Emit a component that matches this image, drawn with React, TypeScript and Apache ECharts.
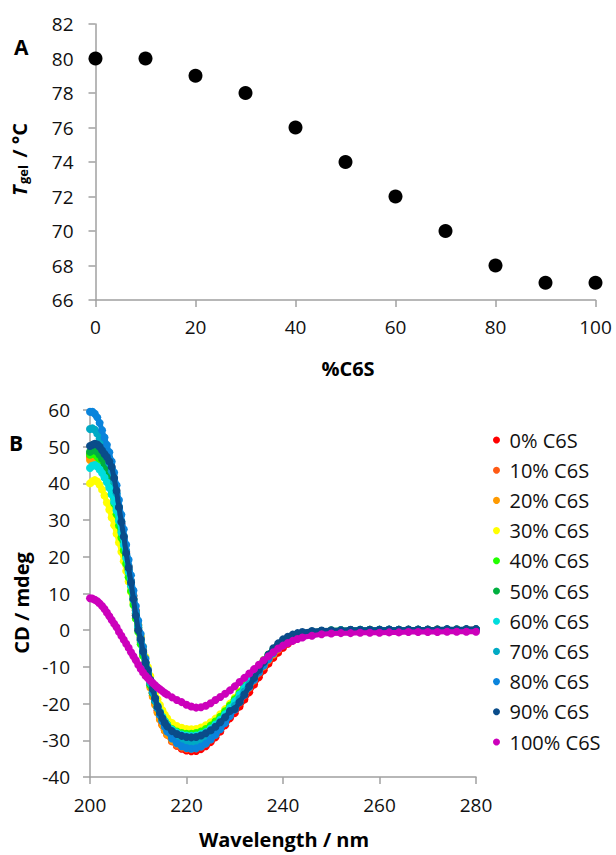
import React, { useEffect, useRef } from "react";
import * as echarts from "echarts";

// ---------- Panel A ----------
const pctC6S = [0, 10, 20, 30, 40, 50, 60, 70, 80, 90, 100];
const tGel = [80, 80, 79, 78, 76, 74, 72, 70, 68, 67, 67];

// ---------- Panel B ----------
const wavelength = [
  200, 200.5, 201, 201.5, 202, 202.5, 203, 203.5, 204, 204.5, 205, 205.5, 206, 206.5, 207, 207.5,
  208, 208.5, 209, 209.5, 210, 210.5, 211, 211.5, 212, 212.5, 213, 213.5, 214, 214.5, 215, 215.5, 216,
  217, 218, 219, 220, 221, 222, 223, 224, 225, 226, 227, 228, 229, 230, 231, 232, 233, 234, 235, 236,
  237, 238, 239, 240, 241, 242, 243, 244,
  246, 248, 250, 252, 254, 256, 258, 260, 262, 264, 266, 268, 270, 272, 274, 276, 278, 280,
];

const cd0 = [
  48, 48.3, 48.5, 48.2, 47.5, 46.5, 45.3, 44, 42.5, 40.5, 38.3, 35.5, 32.5, 29, 25.2, 21.3,
  17.4, 13.4, 9.4, 5.4, 1.5, -2, -5.5, -8.8, -11.8, -14.6, -17.2, -19.6, -21.8, -23.8, -25.5, -27, -28.3,
  -30.2, -31.5, -32.3, -32.8, -33, -32.9, -32.4, -31.6, -30.5, -29.2, -27.6, -25.9, -24, -22.6, -20.8, -18.9,
  -16.9, -14.8, -12.8, -10.9, -9.1, -7.5, -6.1, -4.8, -3.7, -2.8, -2.1, -1.5,
  -0.8, -0.4, -0.2, -0.1, -0.1, 0, 0, 0, 0.1, 0, 0.1, 0.1, 0.1, 0.1, 0.2, 0.2, 0.2, 0.3,
];
const cd10 = [
  47.2, 47.6, 47.7, 47.3, 46.6, 45.6, 44.4, 43, 41.4, 39.4, 37.1, 34.4, 31.3, 27.9, 24.2, 20.4,
  16.5, 12.6, 8.6, 4.7, 0.9, -2.7, -6.1, -9.3, -12.3, -15.1, -17.7, -20.1, -22.3, -24.2, -25.9, -27.3, -28.5,
  -30.3, -31.4, -32, -32.3, -32.4, -32.2, -31.7, -30.9, -29.8, -28.5, -26.9, -25.1, -23.2, -21.6, -19.7, -17.7,
  -15.7, -13.7, -11.7, -9.9, -8.2, -6.7, -5.3, -4.1, -3.1, -2.3, -1.7, -1.2,
  -0.6, -0.3, -0.2, -0.1, 0, 0, 0, 0.1, 0, 0.1, 0.1, 0, 0.1, 0.1, 0.1, 0.2, 0.2, 0.2,
];
const cd20 = [
  46.4, 46.8, 46.9, 46.5, 45.7, 44.6, 43.3, 41.8, 40.1, 38.1, 35.8, 33.1, 30.1, 26.8, 23.3, 19.6,
  15.8, 11.9, 8, 4.1, 0.3, -3.3, -6.7, -9.9, -12.9, -15.6, -18.1, -20.4, -22.5, -24.3, -25.9, -27.3, -28.4,
  -30, -30.9, -31.4, -31.6, -31.6, -31.4, -30.9, -30.1, -29.1, -27.8, -26.3, -24.6, -22.7, -21, -19.1, -17.2,
  -15.2, -13.3, -11.4, -9.7, -8, -6.5, -5.2, -4, -3, -2.2, -1.6, -1.1,
  -0.6, -0.3, -0.2, -0.1, 0, 0, 0.1, 0, 0.1, 0.1, 0, 0.1, 0.1, 0.2, 0.1, 0.2, 0.2, 0.2,
];
const cd30 = [
  40, 40.6, 40.9, 40.5, 39.6, 38.3, 36.7, 34.8, 32.8, 30.7, 28.6, 26.3, 23.9, 21.4, 18.8, 16.1,
  13.3, 10.4, 7.4, 4.4, 1.4, -1.6, -4.5, -7.3, -10, -12.5, -14.8, -16.9, -18.8, -20.4, -21.8, -23, -24,
  -25.3, -26.1, -26.6, -26.9, -27, -26.9, -26.5, -25.9, -25.1, -24.1, -22.9, -21.5, -20, -18.4, -16.7, -15,
  -13.2, -11.4, -9.7, -8.1, -6.6, -5.3, -4.1, -3.1, -2.3, -1.6, -1.1, -0.8,
  -0.4, -0.2, -0.1, 0, 0, 0, 0.1, 0.1, 0, 0.1, 0.1, 0.1, 0, 0.1, 0.1, 0.2, 0.1, 0.2,
];
const cd40 = [
  47.8, 48.1, 48, 47.3, 46.2, 44.8, 43.2, 41.4, 39.4, 37.1, 34.5, 31.6, 28.5, 25.2, 21.7, 18.1,
  14.4, 10.7, 6.9, 3.2, -0.4, -3.8, -7, -9.9, -12.6, -15, -17.2, -19.2, -20.9, -22.4, -23.7, -24.8, -25.7,
  -26.9, -27.6, -28, -28.2, -28.2, -28, -27.6, -26.9, -26, -24.9, -23.6, -22.1, -20.5, -18.8, -17, -15.2,
  -13.3, -11.5, -9.8, -8.2, -6.7, -5.3, -4.1, -3.1, -2.3, -1.6, -1.1, -0.8,
  -0.4, -0.2, -0.1, 0, 0, 0.1, 0, 0.1, 0.1, 0, 0.1, 0.1, 0.1, 0.1, 0.2, 0.1, 0.2, 0.2,
];
const cd50 = [
  48.6, 49, 49.1, 48.6, 47.8, 46.7, 45.4, 44, 42.3, 40.3, 37.9, 35, 31.7, 28.1, 24.3, 20.4,
  16.4, 12.4, 8.4, 4.5, 0.7, -2.8, -6.1, -9.2, -12, -14.6, -17, -19.2, -21.2, -22.9, -24.4, -25.7, -26.8,
  -28.3, -29.2, -29.8, -30.1, -30.2, -30.1, -29.7, -29, -28.1, -26.9, -25.5, -23.9, -22.1, -20.2, -18.3, -16.3,
  -14.3, -12.4, -10.5, -8.7, -7.1, -5.6, -4.4, -3.3, -2.4, -1.7, -1.2, -0.8,
  -0.4, -0.2, -0.1, 0, 0, 0, 0.1, 0.1, 0.1, 0, 0.1, 0.1, 0.1, 0.2, 0.1, 0.2, 0.2, 0.2,
];
const cd60 = [
  44.2, 44.8, 45, 44.6, 43.8, 42.8, 41.6, 40.3, 38.8, 37, 35, 32.6, 29.8, 26.6, 23.2, 19.6,
  15.9, 12.1, 8.3, 4.5, 0.8, -2.7, -6, -9, -11.8, -14.3, -16.6, -18.7, -20.6, -22.2, -23.6, -24.8, -25.8,
  -27.1, -27.9, -28.4, -28.7, -28.8, -28.7, -28.3, -27.7, -26.8, -25.7, -24.4, -22.9, -21.2, -19.4, -17.5, -15.6,
  -13.7, -11.8, -10, -8.3, -6.8, -5.4, -4.2, -3.2, -2.4, -1.7, -1.2, -0.8,
  -0.4, -0.2, -0.1, 0, 0, 0.1, 0, 0.1, 0.1, 0.1, 0, 0.1, 0.1, 0.1, 0.2, 0.2, 0.1, 0.2,
];
const cd70 = [
  54.8, 55, 54.6, 53.6, 52.2, 50.6, 49, 47.3, 45.5, 43.3, 40.6, 37.3, 33.6, 29.7, 25.7, 21.6,
  17.5, 13.4, 9.3, 5.2, 1.3, -2.2, -5.6, -8.8, -11.7, -14.4, -16.9, -19.2, -21.3, -23.1, -24.7, -26.1, -27.2,
  -28.8, -29.8, -30.4, -30.7, -30.8, -30.7, -30.2, -29.5, -28.5, -27.3, -25.9, -24.3, -22.5, -20.6, -18.7, -16.7,
  -14.7, -12.7, -10.8, -9, -7.3, -5.8, -4.5, -3.4, -2.5, -1.8, -1.3, -0.9,
  -0.5, -0.3, -0.2, -0.1, 0, 0, 0.1, 0, 0.1, 0.1, 0.1, 0.1, 0, 0.1, 0.2, 0.1, 0.2, 0.2,
];
const cd80 = [
  59.5, 59.5, 59, 58, 56.5, 54.5, 52.5, 50.5, 48.5, 46, 43, 39.5, 35.5, 31.5, 27.5, 23.3,
  19.2, 15, 10.8, 6.6, 2.6, -1, -4.5, -7.8, -10.8, -13.6, -16.2, -18.7, -21, -23, -24.8, -26.3, -27.6,
  -29.5, -30.8, -31.6, -32.1, -32.3, -32.2, -31.7, -30.9, -29.8, -28.5, -27, -25.3, -23.4, -21.6, -19.6, -17.6,
  -15.5, -13.5, -11.5, -9.6, -7.9, -6.3, -4.9, -3.7, -2.7, -1.9, -1.3, -0.9,
  -0.5, -0.3, -0.2, -0.1, 0, 0, 0, 0.1, 0.1, 0.1, 0.1, 0.1, 0.1, 0.1, 0.1, 0.2, 0.2, 0.2,
];
const cd90 = [
  50.2, 50.5, 50.8, 50.6, 50, 49, 48, 47.2, 46, 44.5, 41.5, 38, 33.5, 29.5, 25.5, 21,
  17, 13, 8.5, 4, 0, -2.5, -5.8, -8.8, -11, -13.5, -16, -18.5, -20.8, -22.5, -24, -25.2, -26.2,
  -27.5, -28.3, -28.8, -29.1, -29.2, -29.1, -28.7, -28.1, -27.3, -26.3, -25.1, -23.7, -22, -21.5, -19.6, -17.5,
  -15.3, -13, -10.8, -8.7, -6.6, -4.9, -3.6, -2.5, -1.8, -1.2, -0.8, -0.5,
  -0.2, -0.1, 0, 0, 0.1, 0.1, 0.1, 0.1, 0.2, 0.1, 0.2, 0.2, 0.2, 0.2, 0.3, 0.2, 0.3, 0.3,
];
const cd100 = [
  8.7, 8.6, 8.3, 7.9, 7.3, 6.6, 5.8, 4.8, 3.8, 2.8, 1.8, 0.8, -0.4, -1.5, -2.6, -3.7,
  -4.8, -6, -7.1, -8.2, -9.4, -10.5, -11.5, -12.4, -13.1, -13.8, -14.4, -15, -15.6, -16.1, -16.6, -17.1, -17.5,
  -18.3, -19, -19.6, -20.3, -20.8, -21.1, -21, -20.6, -19.9, -19, -18.2, -17.3, -16.4, -15.3, -14.1, -13,
  -11.8, -10.6, -9.4, -8.2, -7.1, -6, -5, -4.2, -3.5, -2.9, -2.4, -2,
  -1.5, -1.1, -0.9, -0.8, -0.8, -0.7, -0.7, -0.7, -0.6, -0.6, -0.5, -0.5, -0.5, -0.5, -0.4, -0.4, -0.4, -0.4,
];

const seriesNames = [
  "0% C6S", "10% C6S", "20% C6S", "30% C6S", "40% C6S", "50% C6S",
  "60% C6S", "70% C6S", "80% C6S", "90% C6S", "100% C6S",
];
const seriesValues = [cd0, cd10, cd20, cd30, cd40, cd50, cd60, cd70, cd80, cd90, cd100];
const seriesColors = [
  "#FF0000", "#FF5A14", "#FF9A00", "#FFFF00", "#22FF00", "#00B040",
  "#00DDDD", "#00AAC4", "#0A84DC", "#0A4C8A", "#CC00BB",
];

const FONT = "Open Sans";
const AXIS_COLOR = "#A0A0A0";

export default function App() {
  const ref = useRef<HTMLDivElement>(null);

  useEffect(() => {
    document.body.style.margin = "0";
    if (!ref.current) return;
    const chart = echarts.init(ref.current, undefined, { renderer: "svg" });

    const axisCommon = {
      axisLine: { show: true, onZero: false, lineStyle: { color: AXIS_COLOR, width: 1.5 } },
      axisTick: { show: true, inside: false, length: 7, lineStyle: { color: AXIS_COLOR, width: 1.5 } },
      splitLine: { show: false },
    };
    const labelStyle = { color: "#111", fontSize: 19, fontFamily: FONT };

    const cdSeries = seriesNames.map((name, i) => ({
      name,
      type: "line",
      xAxisIndex: 1,
      yAxisIndex: 1,
      data: wavelength.map((w, j) => [w, seriesValues[i][j]]),
      symbol: "circle",
      symbolSize: 8,
      showSymbol: true,
      itemStyle: { color: seriesColors[i], opacity: 1 },
      lineStyle: { color: seriesColors[i], width: 5 },
      silent: true,
      z: 2 + i,
    }));

    const boldTitle = `bold 20px '${FONT}'`;

    chart.setOption({
      animation: false,
      textStyle: { fontFamily: FONT },
      grid: [
        { left: 95.5, top: 24, width: 500, height: 276, containLabel: false },
        { left: 90, top: 410, width: 386, height: 367, containLabel: false },
      ],
      xAxis: [
        {
          type: "value", gridIndex: 0, min: 0, max: 100, interval: 20,
          ...axisCommon,
          axisLabel: { ...labelStyle, margin: 17 },
        },
        {
          type: "value", gridIndex: 1, min: 200, max: 280, interval: 20,
          ...axisCommon,
          axisLabel: { ...labelStyle, margin: 18 },
        },
      ],
      yAxis: [
        {
          type: "value", gridIndex: 0, min: 66, max: 82, interval: 2,
          ...axisCommon,
          axisLabel: { ...labelStyle, margin: 22 },
        },
        {
          type: "value", gridIndex: 1, min: -40, max: 60, interval: 10,
          ...axisCommon,
          axisLabel: { ...labelStyle, margin: 20 },
        },
      ],
      legend: {
        data: seriesNames,
        orient: "vertical",
        left: 488,
        top: 425,
        icon: "circle",
        itemWidth: 16,
        itemHeight: 7,
        itemGap: 10.2,
        textStyle: { color: "#111", fontSize: 20, fontFamily: FONT, lineHeight: 20 },
        selectedMode: false,
      },
      graphic: [
        {
          type: "text", left: 14, top: 36,
          style: { text: "A", font: `bold 21px '${FONT}'`, fill: "#000" },
        },
        {
          type: "text", left: 9, top: 432,
          style: { text: "B", font: `bold 21px '${FONT}'`, fill: "#000" },
        },
        {
          type: "group", x: 19, y: 158, rotation: Math.PI / 2,
          children: [
            {
              type: "text", x: -38, y: 0,
              style: { text: "T", font: `italic bold 20px '${FONT}'`, fill: "#000", align: "left", verticalAlign: "middle" },
            },
            {
              type: "text", x: -26, y: 4,
              style: { text: "gel", font: `bold 13px '${FONT}'`, fill: "#000", align: "left", verticalAlign: "middle" },
            },
            {
              type: "text", x: -5, y: 0,
              style: { text: " / °C", font: boldTitle, fill: "#000", align: "left", verticalAlign: "middle" },
            },
          ],
        },
        {
          type: "text", x: 348, y: 368,
          style: { text: "%C6S", font: boldTitle, fill: "#000", align: "center", verticalAlign: "middle" },
        },
        {
          type: "text", x: 21, y: 603, rotation: Math.PI / 2,
          style: { text: "CD / mdeg", font: boldTitle, fill: "#000", align: "center", verticalAlign: "middle" },
        },
        {
          type: "text", x: 284, y: 839,
          style: { text: "Wavelength / nm", font: `bold 20px '${FONT}'`, fill: "#000", align: "center", verticalAlign: "middle" },
        },
      ],
      series: [
        {
          type: "scatter",
          xAxisIndex: 0,
          yAxisIndex: 0,
          data: pctC6S.map((p, i) => [p, tGel[i]]),
          symbol: "circle",
          symbolSize: 14,
          itemStyle: { color: "#000", opacity: 1 },
          silent: true,
        },
        ...cdSeries,
      ],
    });

    return () => chart.dispose();
  }, []);

  return <div ref={ref} style={{ width: 616, height: 855 }} />;
}
